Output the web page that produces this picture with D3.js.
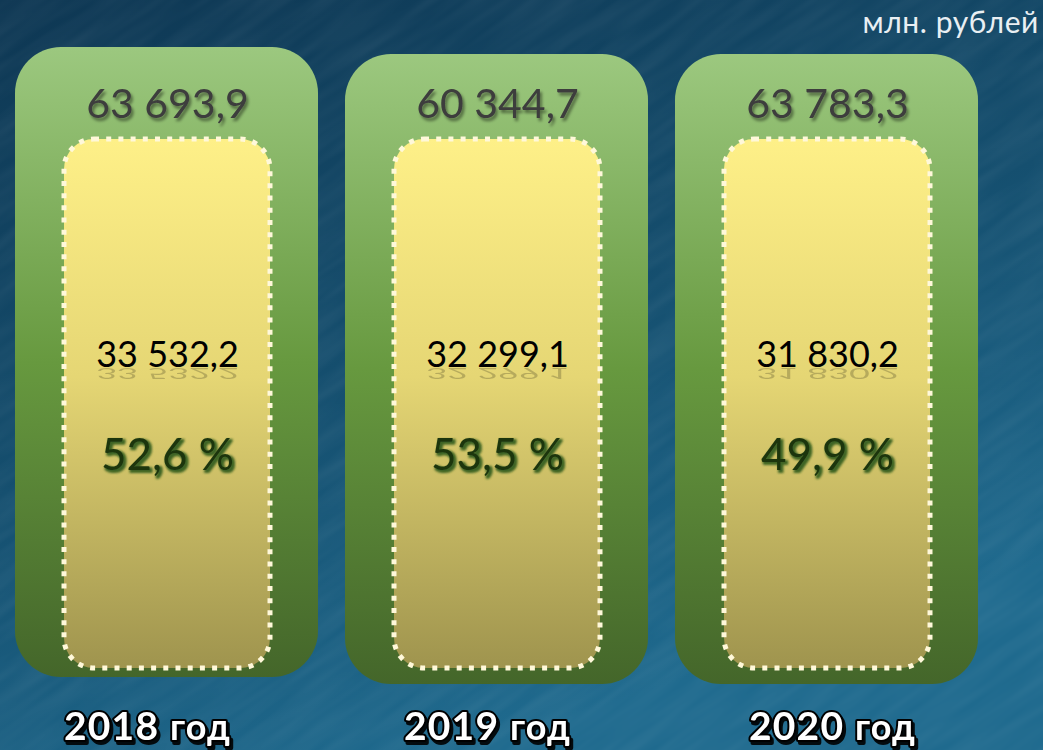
<!DOCTYPE html>
<html>
<head>
<meta charset="utf-8">
<script src="https://cdn.jsdelivr.net/npm/d3@7"></script>
<style>
  html, body { margin: 0; padding: 0; background: #134a6b; overflow: hidden; }
  svg { display: block; }
</style>
</head>
<body>
<svg id="chart" xmlns:xlink="http://www.w3.org/1999/xlink"></svg>
<script>
// данные
const years = ["2018", "2019", "2020"];
const totals = ["63 693,9", "60 344,7", "63 783,3"];
const parts = ["33 532,2", "32 299,1", "31 830,2"];
const shares = ["52,6 %", "53,5 %", "49,9 %"];
const unitLabel = "млн. рублей";
const yearSuffix = "год";

const width = 1043;
const height = 750;

const svg = d3.select("#chart")
    .attr("width", width)
    .attr("height", height)
    .attr("viewBox", [0, 0, width, height]);

const defs = svg.append("defs");

// фон
const bg = defs.append("linearGradient").attr("id", "bg")
    .attr("x1", "0").attr("y1", "0").attr("x2", "0.45").attr("y2", "1");
bg.append("stop").attr("offset", "0%").attr("stop-color", "#0e3753");
bg.append("stop").attr("offset", "55%").attr("stop-color", "#154f6f");
bg.append("stop").attr("offset", "100%").attr("stop-color", "#1f6a8e");

const green = defs.append("linearGradient").attr("id", "green")
    .attr("x1", 0).attr("y1", 0).attr("x2", 0).attr("y2", 1);
green.append("stop").attr("offset", "0%").attr("stop-color", "#9cc87f");
green.append("stop").attr("offset", "50%").attr("stop-color", "#67993f");
green.append("stop").attr("offset", "100%").attr("stop-color", "#44662a");

const yellow = defs.append("linearGradient").attr("id", "yellow")
    .attr("x1", 0).attr("y1", 0).attr("x2", 0).attr("y2", 1);
yellow.append("stop").attr("offset", "0%").attr("stop-color", "#fef088");
yellow.append("stop").attr("offset", "45%").attr("stop-color", "#e5d674");
yellow.append("stop").attr("offset", "100%").attr("stop-color", "#9f944e");

const shadow = defs.append("filter").attr("id", "shadow")
    .attr("x", "-10%").attr("y", "-20%").attr("width", "130%").attr("height", "160%");
shadow.append("feDropShadow").attr("dx", 2).attr("dy", 3).attr("stdDeviation", 1.5)
    .attr("flood-color", "#000").attr("flood-opacity", 0.45);

const glow = defs.append("filter").attr("id", "glow")
    .attr("x", "-10%").attr("y", "-20%").attr("width", "130%").attr("height", "160%");
glow.append("feMorphology").attr("in", "SourceAlpha").attr("operator", "dilate").attr("radius", 1.2).attr("result", "d");
glow.append("feGaussianBlur").attr("in", "d").attr("stdDeviation", 1.2).attr("result", "b");
glow.append("feOffset").attr("in", "b").attr("dx", 1.5).attr("dy", 2).attr("result", "o");
glow.append("feFlood").attr("flood-color", "#2f5a1c").attr("flood-opacity", 0.9);
glow.append("feComposite").attr("in2", "o").attr("operator", "in").attr("result", "g");
const gm = glow.append("feMerge");
gm.append("feMergeNode").attr("in", "g");
gm.append("feMergeNode").attr("in", "SourceGraphic");

const hard = defs.append("filter").attr("id", "hard")
    .attr("x", "-10%").attr("y", "-20%").attr("width", "130%").attr("height", "160%");
hard.append("feDropShadow").attr("dx", 2).attr("dy", 3).attr("stdDeviation", 0.6)
    .attr("flood-color", "#000").attr("flood-opacity", 0.9);

const soft = defs.append("filter").attr("id", "soft");
soft.append("feGaussianBlur").attr("stdDeviation", 0.7);

// текстура фона
const tex = defs.append("filter").attr("id", "tex").attr("x", 0).attr("y", 0)
    .attr("width", "100%").attr("height", "100%");
tex.append("feTurbulence").attr("type", "fractalNoise")
    .attr("baseFrequency", "0.01 0.08").attr("numOctaves", 2).attr("seed", 4);
tex.append("feColorMatrix").attr("type", "matrix")
    .attr("values", "0 0 0 0 1  0 0 0 0 1  0 0 0 0 1  0 0 0 0.09 -0.025");

svg.append("rect").attr("width", width).attr("height", height).attr("fill", "url(#bg)");
svg.append("rect")
    .attr("x", -300).attr("y", -300).attr("width", width + 600).attr("height", height + 600)
    .attr("filter", "url(#tex)")
    .attr("transform", `rotate(-35 ${width / 2} ${height / 2})`);

// шкала
const x = d3.scaleBand()
    .domain(years)
    .range([15, 978])
    .paddingInner(27 / 330)
    .paddingOuter(0);

const font = "Lato, 'Open Sans', sans-serif";
const labelShift = [-20, -10, 5];

const cards = svg.selectAll(".card")
    .data(years.map((y, i) => ({ year: y, total: totals[i], part: parts[i], share: shares[i], i })))
    .join("g")
    .attr("class", "card");

// внешняя плашка
cards.append("rect")
    .attr("x", d => x(d.year))
    .attr("y", d => d.i === 0 ? 47 : 54)
    .attr("width", x.bandwidth())
    .attr("height", 630)
    .attr("rx", 46)
    .attr("fill", "url(#green)");

// внутренняя плашка
cards.append("rect")
    .attr("x", d => x(d.year) + 49)
    .attr("y", 139)
    .attr("width", 206)
    .attr("height", 529)
    .attr("rx", 30)
    .attr("fill", "url(#yellow)")
    .attr("stroke", "#fff8da")
    .attr("stroke-width", 5)
    .attr("stroke-dasharray", "5 7.2");

const cx = d => x(d.year) + x.bandwidth() / 2 + 1;

// итог
cards.append("text")
    .attr("x", cx)
    .attr("y", 118)
    .attr("text-anchor", "middle")
    .attr("font-family", font)
    .attr("font-size", 41)
    .attr("fill", "#3d3d3d")
    .attr("filter", "url(#shadow)")
    .text(d => d.total);

// часть + отражение
const partBase = 367;
cards.append("text")
    .attr("id", d => "part-" + d.i)
    .attr("x", cx)
    .attr("y", partBase)
    .attr("text-anchor", "middle")
    .attr("font-family", font)
    .attr("font-size", 36)
    .attr("fill", "#000")
    .text(d => d.part);

cards.append("use")
    .attr("href", d => "#part-" + d.i)
    .attr("transform", `matrix(1,0,0,-0.45,0,${partBase * 1.45 + 1})`)
    .attr("opacity", 0.2)
    .attr("filter", "url(#soft)");

// доля
cards.append("text")
    .attr("x", cx)
    .attr("y", 470)
    .attr("text-anchor", "middle")
    .attr("font-family", font)
    .attr("font-size", 44)
    .attr("fill", "#1c3510")
    .attr("filter", "url(#glow)")
    .text(d => d.share);

// подписи годов
const yl = cards.append("text")
    .attr("x", d => cx(d) + labelShift[d.i])
    .attr("y", 740)
    .attr("text-anchor", "middle")
    .attr("font-family", font)
    .attr("font-weight", 700)
    .attr("letter-spacing", 1.2)
    .attr("fill", "#fff")
    .attr("stroke", "#000")
    .attr("stroke-width", 4)
    .attr("paint-order", "stroke")
    .attr("stroke-linejoin", "round")
    .attr("filter", "url(#hard)");
yl.append("tspan").attr("font-size", 39).text(d => d.year + " ");
yl.append("tspan").attr("font-size", 36).text(yearSuffix);

// единицы
svg.append("text")
    .attr("x", 1039)
    .attr("y", 33)
    .attr("text-anchor", "end")
    .attr("font-family", font)
    .attr("font-size", 30)
    .attr("letter-spacing", 0.6)
    .attr("fill", "#e9eff3")
    .text(unitLabel);
</script>
</body>
</html>
